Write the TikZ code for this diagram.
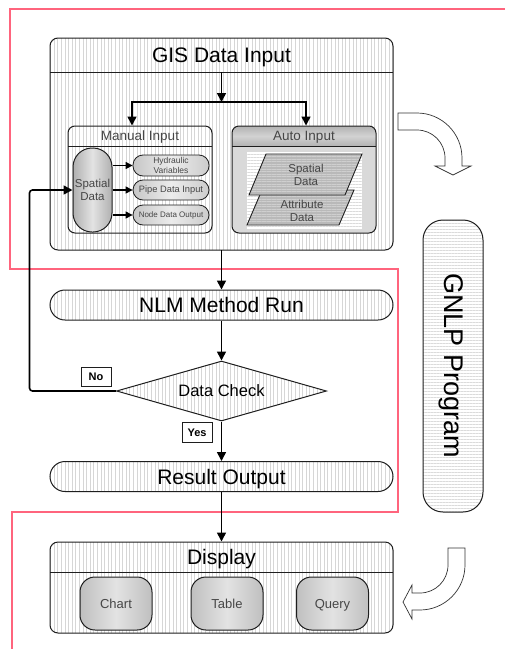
\documentclass[tikz,border=0pt]{standalone}
\usepackage{fontspec}
\setmainfont{Liberation Sans}
\usetikzlibrary{patterns.meta,arrows.meta,shapes.geometric}
\definecolor{redline}{RGB}{255,100,125}
\definecolor{txtgray}{RGB}{70,70,70}
\definecolor{edge}{RGB}{30,30,30}
\tikzset{
  vhatch/.style={preaction={fill=white},pattern={Lines[angle=90,distance=3.6pt,line width=0.5pt]},pattern color=gray!32},
  hhatch/.style={preaction={fill=white},pattern={Lines[angle=0,distance=3pt,line width=0.5pt]},pattern color=gray!28},
  panel/.style={draw=edge,line width=1pt,rounded corners=#1,inner sep=0pt},
  sepline/.style={draw=edge,line width=1pt},
  capsule/.style={panel=15pt,vhatch,minimum width=343pt,minimum height=30pt,
     font=\fontsize{21}{25}\selectfont,text height=15.1pt,text depth=0pt},
  bigtitle/.style={inner sep=0pt,font=\fontsize{21}{25}\selectfont,text height=15.1pt,text depth=0pt},
  subtitle/.style={inner sep=0pt,font=\fontsize{13.5}{16}\selectfont,text=txtgray,text height=9.7pt,text depth=0pt},
  graybar/.style={left color=gray!62,right color=gray!62,middle color=gray!22},
  smallbox/.style={panel=10pt,line width=0.8pt,left color=gray!45,right color=gray!40,middle color=gray!15,minimum width=76pt,minimum height=20pt,text=txtgray,align=center},
  conn/.style={draw=black,line width=1.6pt,-{Triangle[length=9pt,width=9pt]}},
  thinconn/.style={draw=black,line width=1.2pt,-{Triangle[length=7pt,width=7pt]}},
  tag/.style={draw=edge,line width=0.8pt,fill=white,inner sep=0pt,minimum width=30pt,minimum height=19pt,font=\bfseries\fontsize{11}{13}\selectfont,text height=8pt,text depth=0pt},
  redpath/.style={draw=redline,line width=2.6pt},
  bendarrow/.style={draw=black!80,line width=0.7pt,fill=white,line join=miter},
  para/.style={draw=edge,line width=0.9pt,preaction={fill=gray!55},pattern={Lines[angle=0,distance=2.5pt,line width=0.6pt]},pattern color=gray!38},
  ptext/.style={inner sep=0pt,align=center,font=\fontsize{11.5}{13.5}\selectfont,text=txtgray},
  pill/.style={panel=15pt,left color=gray!50,right color=gray!50,middle color=gray!22,minimum width=72pt,minimum height=53pt,font=\fontsize{13}{15}\selectfont,text=txtgray,text height=9.4pt,text depth=0pt},
}
\begin{document}
\begin{tikzpicture}[x=1pt,y=-1pt]
\useasboundingbox (0,0) rectangle (505,649);
\fill[white] (0,0) rectangle (505,649);
\draw[redpath] (505,9) -- (10,9) -- (10,269) -- (398,269) -- (398,512) -- (12,512) -- (12,649);

% GIS Data Input panel
\node[panel=8pt,vhatch,minimum width=343pt,minimum height=212pt] (gis) at (221.5,144) {};
\draw[sepline] (50,72) -- (393,72);
\node[bigtitle] (gist) at (221.5,54.5) {GIS Data Input};

% Manual input
\node[panel=7pt,vhatch,minimum width=144pt,minimum height=107pt] (manual) at (140,179.5) {};
\draw[sepline,line width=0.8pt] (68,146) -- (212,146);
\node[subtitle] (mant) at (140,135.5) {Manual Input};

% Auto input
\begin{scope}
\clip[rounded corners=7pt] (232,126) rectangle (376,233);
\fill[gray!30] (232,126) rectangle (376,233);
\shade[top color=gray!60,bottom color=gray!60,middle color=gray!35] (232,126) rectangle (376,146);
\path[hhatch] (247,152) rectangle (362,229);
\end{scope}
\node[panel=7pt,minimum width=144pt,minimum height=107pt] (auto) at (304,179.5) {};
\draw[sepline,line width=0.8pt] (232,146) -- (376,146);
\node[subtitle] (autot) at (304,135.5) {Auto Input};
\draw[para] (262,190) -- (354,190) -- (339,225) -- (247,225) -- cycle;
\draw[para] (266,154) -- (362,154) -- (345,195) -- (249,195) -- cycle;
\node[ptext] (attr) at (302,211) {Attribute\\Data};
\node[ptext] (spat2) at (306,175) {Spatial\\Data};

% Spatial data and manual items
\node[panel=19pt,graybar,minimum width=39pt,minimum height=84pt,align=center,font=\fontsize{11.5}{13}\selectfont,text=txtgray] (spatial) at (92.5,190) {Spatial\\Data};
\node[smallbox,minimum height=21pt,font=\fontsize{8.5}{10.5}\selectfont] (hyd) at (171,165.5) {Hydraulic\\Variables};
\node[smallbox,font=\fontsize{9.3}{11}\selectfont] (pipe) at (171,190) {Pipe Data Input};
\node[smallbox,font=\fontsize{8}{10}\selectfont] (nodeout) at (171,215) {Node Data Output};
\draw[thinconn] (spatial.east |- hyd.west) -- (hyd.west);
\draw[thinconn] (spatial.east |- pipe.west) -- (pipe.west);
\draw[thinconn] (spatial.east |- nodeout.west) -- (nodeout.west);

% arrows inside GIS panel
\coordinate (gtop) at (221.5,72);
\coordinate (split) at (221.5,102);
\draw[conn] (gtop) -- (split);
\draw[conn] (split) -| ([xshift=-8pt]manual.north);
\draw[conn] (split) -| ([xshift=2pt]auto.north);

% main flow
\node[capsule] (nlm) at (221.5,305) {NLM Method Run};
\node[diamond,aspect=3.5,draw=edge,line width=1pt,vhatch,inner sep=0pt,minimum width=210pt,minimum height=60pt,font=\fontsize{16.5}{19}\selectfont,text height=11.9pt,text depth=0pt] (check) at (221.5,391) {Data Check};
\node[capsule] (result) at (221.5,476.5) {Result Output};

% Display
\node[panel=8pt,vhatch,minimum width=343pt,minimum height=91pt] (display) at (221.5,587.5) {};
\draw[sepline] (50,572) -- (393,572);
\node[bigtitle] (dispt) at (221.5,556.5) {Display};
\node[pill] (chart) at (116,603.5) {Chart};
\node[pill] (table) at (227,603.5) {Table};
\node[pill] (query) at (332.5,603.5) {Query};

\draw[conn] (gis.south) -- (nlm.north);
\draw[conn] (nlm.south) -- (check.north);
\draw[conn] (check.south) -- (result.north);
\draw[conn] (result.south) -- (display.north);
\draw[conn,rounded corners=3pt] (check.west) -- ++(-86.5,0) |- (spatial.west);

\node[tag] (no) at (96,376.5) {No};
\node[tag,minimum height=20pt] (yes) at (197,432) {Yes};

% GNLP program
\node[panel=20pt,hhatch,minimum width=60pt,minimum height=292pt] (gnlp) at (453,366) {};
\node[bigtitle,font=\fontsize{27}{30}\selectfont,text height=19.4pt,rotate=-90] (gnlpt) at (454.5,365.5) {GNLP Program};

% bent outline arrows
\draw[bendarrow] (398,113) -- (417,113) .. controls (441.8,113) and (462,133.2) .. (462,158) -- (462,166) -- (471,166) -- (453,175) -- (435,166) -- (445,166) -- (445,158) .. controls (445,142.5) and (432.5,130) .. (417,130) -- (398,130) -- cycle;
\draw[bendarrow] (448,548) -- (465,548) -- (465,565) .. controls (465,589.8) and (444.8,610) .. (420,610) -- (412,610) -- (412,619) -- (403,602) -- (412,585) -- (412,593) -- (420,593) .. controls (435.5,593) and (448,580.5) .. (448,565) -- cycle;
\end{tikzpicture}
\end{document}
